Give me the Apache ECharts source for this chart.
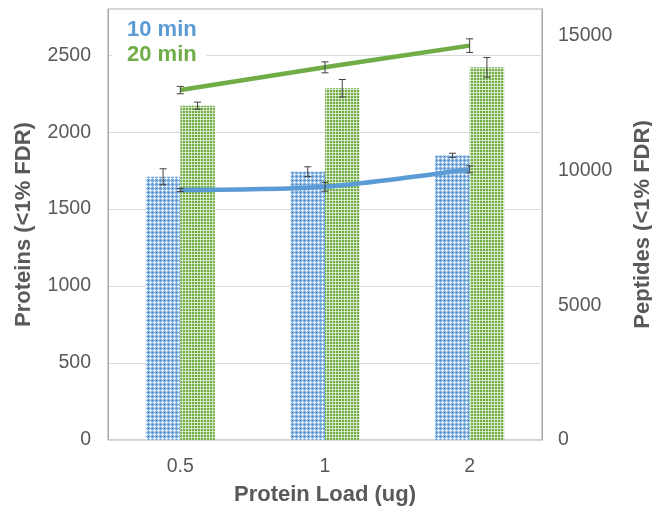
<!DOCTYPE html>
<html>
<head>
<meta charset="utf-8">
<script src="https://cdn.jsdelivr.net/npm/echarts@6/dist/echarts.min.js"></script>
<style>
html,body{margin:0;padding:0;background:#fff;}
#chart{width:652px;height:508px;}
</style>
</head>
<body>
<div id="chart"></div>
<script>
// ---- data ----
var categories = ['0.5', '1', '2'];
var proteins10 = [1710, 1743, 1849];
var proteins10Err = [52, 32, 14];
var proteins20 = [2172, 2285, 2421];
var proteins20Err = [23, 57, 64];
var peptides10 = [9280, 9400, 10050];
var peptides10Err = [60, 165, 130];
var peptides20 = [12990, 13835, 14640];
var peptides20Err = [137, 204, 252];
var leftTicks = {min: 0, max: 2800, interval: 500};
var rightTicks = {min: 0, max: 16000, interval: 5000};

var BLUE = '#5B9BD5', GREEN = '#70AD47', GRAY = '#595959';
var FONT = '"Liberation Sans", Arial, sans-serif';

function makePattern(size, base, pixels) {
  var c = document.createElement('canvas');
  c.width = size; c.height = size;
  var ctx = c.getContext('2d');
  ctx.fillStyle = base; ctx.fillRect(0, 0, size, size);
  pixels.forEach(function (p) { ctx.fillStyle = p[2]; ctx.fillRect(p[0], p[1], 1, 1); });
  return c;
}
var bluePat = makePattern(4, '#7fb0e0', [
  [2,1,'#e8f1fa'],[1,2,'#e8f1fa'],[2,2,'#ffffff'],[3,2,'#e8f1fa'],[2,3,'#e8f1fa'],
  [0,0,'#4a8ccf']
]);
var greenPat = makePattern(3, '#6fac45', [
  [2,0,'#cfe4bf'],[2,1,'#cfe4bf'],[2,2,'#e6f1dd'],[0,2,'#cfe4bf'],[1,2,'#cfe4bf']
]);

function plain(v) { return String(v); }
function errData(vals, errs) {
  return vals.map(function (v, i) { return [i, v - errs[i], v + errs[i]]; });
}
var BAR_W = 34.5;
function errRender(offset) {
  return function (params, api) {
    var x = api.value(0);
    var lo = api.coord([x, api.value(1)]);
    var hi = api.coord([x, api.value(2)]);
    var cx = lo[0] + offset;
    var cap = 3.5;
    var st = {stroke: '#404040', lineWidth: 1};
    return {type: 'group', children: [
      {type: 'line', shape: {x1: cx, y1: hi[1], x2: cx, y2: lo[1]}, style: st},
      {type: 'line', shape: {x1: cx - cap, y1: hi[1], x2: cx + cap, y2: hi[1]}, style: st},
      {type: 'line', shape: {x1: cx - cap, y1: lo[1], x2: cx + cap, y2: lo[1]}, style: st}
    ]};
  };
}

var chart = echarts.init(document.getElementById('chart'), null, {renderer: 'canvas'});
chart.setOption({
  animation: false,
  textStyle: {fontFamily: FONT},
  grid: {left: 108, right: 110, top: 9, bottom: 68, show: true, borderColor: '#a6a6a6', borderWidth: 1,
         containLabel: false, outerBoundsMode: 'none'},
  legend: {
    data: [
      {name: '10 min', textStyle: {color: BLUE}},
      {name: '20 min', textStyle: {color: GREEN}}
    ],
    orient: 'vertical', left: 112, top: 14, icon: 'none', itemWidth: 0, itemHeight: 22, itemGap: 3,
    padding: [5, 10, 5, 10], backgroundColor: '#ffffff', selectedMode: false,
    textStyle: {fontSize: 22, fontWeight: 'bold', fontFamily: FONT}
  },
  xAxis: {
    type: 'category', data: categories,
    axisLine: {lineStyle: {color: '#d9d9d9', width: 1}},
    axisTick: {show: false},
    axisLabel: {fontSize: 19.5, color: GRAY, margin: 17, fontFamily: FONT},
    name: 'Protein Load (ug)', nameLocation: 'middle', nameGap: 44,
    nameTextStyle: {fontSize: 22, fontWeight: 'bold', color: GRAY, fontFamily: FONT}
  },
  yAxis: [{
    type: 'value', min: leftTicks.min, max: leftTicks.max, interval: leftTicks.interval,
    axisLine: {show: true, lineStyle: {color: '#a6a6a6'}},
    axisTick: {show: false},
    splitLine: {lineStyle: {color: '#d9d9d9', width: 1}},
    axisLabel: {fontSize: 19.5, color: GRAY, margin: 17, showMaxLabel: false, fontFamily: FONT, formatter: plain},
    name: 'Proteins (<1% FDR)', nameLocation: 'middle', nameGap: 73, nameRotate: 90,
    nameTextStyle: {fontSize: 22, fontWeight: 'bold', color: GRAY, fontFamily: FONT}
  }, {
    type: 'value', min: rightTicks.min, max: rightTicks.max, interval: rightTicks.interval,
    position: 'right',
    axisLine: {show: true, lineStyle: {color: '#a6a6a6'}},
    axisTick: {show: false},
    splitLine: {show: false},
    axisLabel: {fontSize: 19.5, color: GRAY, margin: 16, showMaxLabel: false, fontFamily: FONT, formatter: plain},
    name: 'Peptides (<1% FDR)', nameLocation: 'middle', nameGap: 90, nameRotate: 90,
    nameTextStyle: {fontSize: 22, fontWeight: 'bold', color: GRAY, fontFamily: FONT}
  }],
  series: [
    {name: '10 min', type: 'bar', data: proteins10, barWidth: BAR_W, barGap: '0%',
     itemStyle: {color: {image: bluePat, repeat: 'repeat'}}, z: 2},
    {name: '20 min', type: 'bar', data: proteins20, barWidth: BAR_W, barGap: '0%',
     itemStyle: {color: {image: greenPat, repeat: 'repeat'}}, z: 2},
    {name: '10 min', type: 'line', yAxisIndex: 1, data: peptides10, smooth: 0.25,
     showSymbol: false, symbol: 'none', lineStyle: {color: BLUE, width: 4.5}, itemStyle: {color: BLUE}, z: 3},
    {name: '20 min', type: 'line', yAxisIndex: 1, data: peptides20, smooth: 0.25,
     showSymbol: false, symbol: 'none', lineStyle: {color: GREEN, width: 4.5}, itemStyle: {color: GREEN}, z: 3},
    {name: 'err-p10', type: 'custom', renderItem: errRender(-BAR_W / 2), data: errData(proteins10, proteins10Err),
     encode: {x: 0, y: [1, 2]}, z: 5},
    {name: 'err-p20', type: 'custom', renderItem: errRender(BAR_W / 2), data: errData(proteins20, proteins20Err),
     encode: {x: 0, y: [1, 2]}, z: 5},
    {name: 'err-l10', type: 'custom', yAxisIndex: 1, renderItem: errRender(0), data: errData(peptides10, peptides10Err),
     encode: {x: 0, y: [1, 2]}, z: 5},
    {name: 'err-l20', type: 'custom', yAxisIndex: 1, renderItem: errRender(0), data: errData(peptides20, peptides20Err),
     encode: {x: 0, y: [1, 2]}, z: 5}
  ]
});
</script>
</body>
</html>
